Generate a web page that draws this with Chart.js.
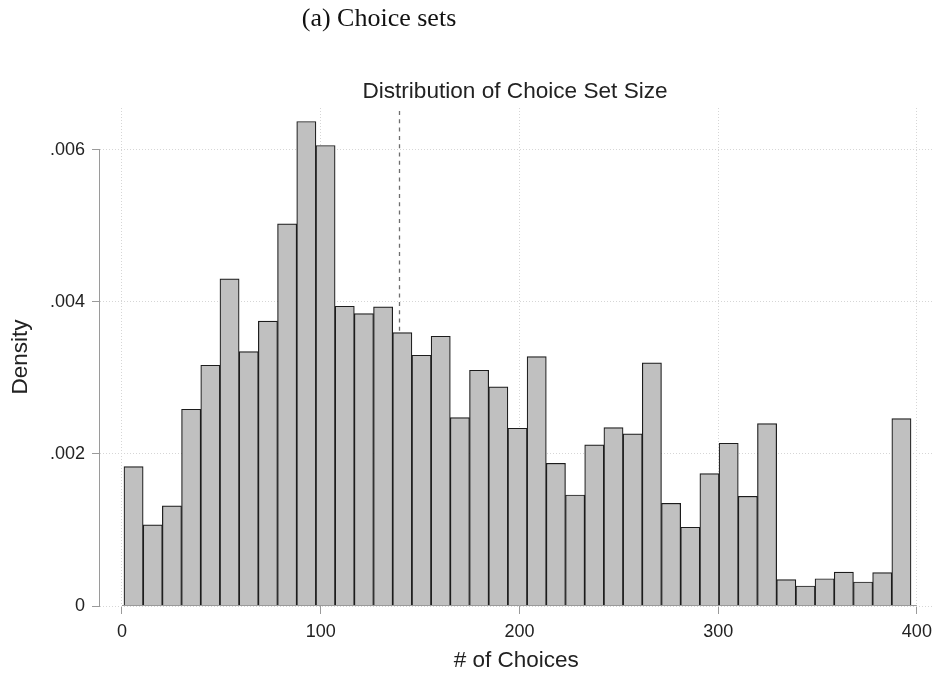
<!DOCTYPE html>
<html>
<head>
<meta charset="utf-8">
<title>Distribution of Choice Set Size</title>
<script src="https://cdn.jsdelivr.net/npm/chart.js@4.4.1/dist/chart.umd.min.js"></script>
<style>
  html, body { margin: 0; padding: 0; background: #fff; }
  #wrap { position: relative; width: 939px; height: 676px; }
</style>
</head>
<body>
<div id="wrap"><canvas id="choice_set_chart"></canvas></div>
<script>
// histogram bins (# of choices), 41 bins
const binEdges = [1, 10.66, 20.32, 29.98, 39.64, 49.3, 58.96, 68.62, 78.28, 87.94,
    97.6, 107.26, 116.92, 126.58, 136.24, 145.9, 155.56, 165.22, 174.88, 184.54,
    194.2, 203.86, 213.52, 223.18, 232.84, 242.5, 252.16, 261.82, 271.48, 281.14,
    290.8, 300.46, 310.12, 319.78, 329.44, 339.1, 348.76, 358.42, 368.08, 377.74,
    387.4, 397.06];

const density = [0.001833, 0.001066, 0.001316, 0.002588, 0.003167, 0.004303, 0.003346,
    0.003746, 0.005026, 0.006373, 0.006057, 0.003943, 0.003846, 0.003934, 0.003597,
    0.003298, 0.003548, 0.002478, 0.003101, 0.002882, 0.002338, 0.003280, 0.001877,
    0.001460, 0.002120, 0.002346, 0.002263, 0.003197, 0.001351, 0.001036, 0.001741,
    0.002141, 0.001443, 0.002399, 0.000346, 0.000263, 0.000359, 0.000447, 0.000316,
    0.000438, 0.002464];

const xTicks = [0, 100, 200, 300, 400];
const yTicks = [0, 0.002, 0.004, 0.006];
const yTickLabels = ['0', '.002', '.004', '.006'];
const meanChoices = 139.5;

const panelLabel = '(a) Choice sets';
const chartTitle = 'Distribution of Choice Set Size';

const binCenters = density.map((_, i) => (binEdges[i] + binEdges[i + 1]) / 2);

const axisGray = '#9a9a9a';
const gridGray = '#d6d6d6';
const textColor = '#222222';

// stata-ish extras: mean line behind bars, axis lines, headings
const stataExtras = {
    id: 'stataExtras',
    beforeDatasetsDraw(chart) {
        const {ctx, chartArea, scales: {x}} = chart;
        const px = Math.round(x.getPixelForValue(meanChoices)) + 0.5;
        ctx.save();
        ctx.strokeStyle = '#6e6e6e';
        ctx.lineWidth = 1.3;
        ctx.setLineDash([4, 4.3]);
        ctx.beginPath();
        ctx.moveTo(px, chartArea.top + 3);
        ctx.lineTo(px, chartArea.bottom);
        ctx.stroke();
        ctx.restore();
    },
    afterDatasetsDraw(chart) {
        const {ctx, chartArea, scales: {x, y}} = chart;
        ctx.save();
        ctx.strokeStyle = axisGray;
        ctx.lineWidth = 1;
        ctx.beginPath();
        // y axis spans the tick range only
        ctx.moveTo(chartArea.left - 0.5, Math.round(y.getPixelForValue(yTicks[yTicks.length - 1])));
        ctx.lineTo(chartArea.left - 0.5, Math.round(y.getPixelForValue(0)) + 0.5);
        // x axis spans 0..400
        const by = Math.round(y.getPixelForValue(0)) - 0.5;
        ctx.moveTo(x.getPixelForValue(xTicks[0]), by);
        ctx.lineTo(x.getPixelForValue(xTicks[xTicks.length - 1]), by);
        ctx.stroke();
        ctx.restore();
    },
    afterDraw(chart) {
        const {ctx} = chart;
        ctx.save();
        ctx.fillStyle = '#111';
        ctx.textAlign = 'center';
        ctx.textBaseline = 'alphabetic';
        ctx.font = '26px "Liberation Serif"';
        ctx.fillText(panelLabel, 379, 26);
        ctx.fillStyle = textColor;
        ctx.font = '22.6px "Liberation Sans"';
        ctx.fillText(chartTitle, 515, 98);
        ctx.restore();
    }
};

(function choice_set_chart()
{
    const canvas = document.getElementById('choice_set_chart');
    const myChart = new Chart(canvas, {
        type: 'bar',
        data: {
            datasets: [{
                label: 'Density',
                data: binCenters.map((c, i) => ({x: c, y: density[i]})),
                backgroundColor: '#c0c0c0',
                borderColor: '#1c1c1c',
                borderWidth: 1.2,
                barPercentage: 1,
                categoryPercentage: 1
            }]
        },
        options: {
            responsive: true,
            maintainAspectRatio: false,
            animation: false,
            layout: {
                padding: {top: 108, right: 6, left: 0, bottom: 0}
            },
            plugins: {
                legend: {display: false},
                tooltip: {enabled: false},
                title: {display: false}
            },
            scales: {
                x: {
                    type: 'linear',
                    min: -11.06,
                    max: 407.8,
                    offset: false,
                    afterBuildTicks: s => { s.ticks = xTicks.map(v => ({value: v})); },
                    afterFit: s => { s.height = 70; },
                    grid: {
                        offset: false,
                        color: gridGray,
                        lineWidth: 1,
                        drawTicks: true,
                        tickLength: 8,
                        tickColor: axisGray,
                        tickBorderDash: []
                    },
                    border: {display: false, dash: [1, 2]},
                    ticks: {
                        font: {family: 'Liberation Sans', size: 18},
                        color: textColor,
                        padding: 7,
                        maxRotation: 0,
                        autoSkip: false,
                        callback: v => String(v)
                    },
                    title: {
                        display: true,
                        text: '# of Choices',
                        font: {family: 'Liberation Sans', size: 22.5},
                        color: textColor,
                        padding: {top: 0, bottom: 2}
                    }
                },
                y: {
                    type: 'linear',
                    min: 0,
                    max: 0.00655,
                    afterBuildTicks: s => { s.ticks = yTicks.map(v => ({value: v})); },
                    afterFit: s => { s.width = 100; },
                    grid: {
                        color: gridGray,
                        lineWidth: 1,
                        drawTicks: true,
                        tickLength: 8,
                        tickColor: axisGray,
                        tickBorderDash: []
                    },
                    border: {display: false, dash: [1, 2]},
                    ticks: {
                        font: {family: 'Liberation Sans', size: 18},
                        color: textColor,
                        padding: 7,
                        callback: (v, i) => yTickLabels[i]
                    },
                    title: {
                        display: true,
                        text: 'Density',
                        font: {family: 'Liberation Sans', size: 22.5},
                        color: textColor,
                        padding: {top: 7.5, bottom: 0}
                    }
                }
            }
        },
        plugins: [stataExtras]
    });
})();
</script>
</body>
</html>
